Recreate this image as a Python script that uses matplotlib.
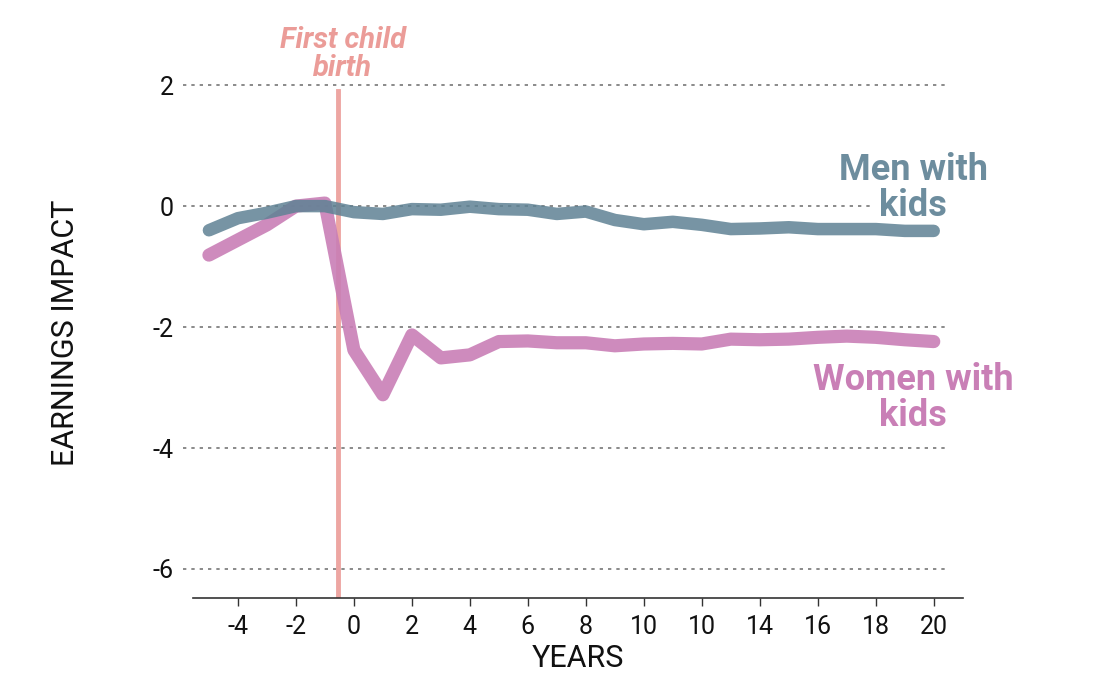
import matplotlib.pyplot as plt

years = list(range(-5, 21))
men = [-0.40, -0.20, -0.11, 0.0, 0.0, -0.10, -0.13, -0.05, -0.06, -0.01, -0.05, -0.06, -0.13,
       -0.09, -0.23, -0.30, -0.26, -0.31, -0.38, -0.37, -0.35, -0.38, -0.38, -0.38, -0.41, -0.41]
women = [-0.81, -0.56, -0.31, 0.0, 0.05, -2.38, -3.12, -2.13, -2.51, -2.46, -2.24, -2.23, -2.26,
         -2.26, -2.31, -2.28, -2.27, -2.28, -2.20, -2.21, -2.20, -2.17, -2.15, -2.17, -2.21, -2.24]

xticks = [-4, -2, 0, 2, 4, 6, 8, 10, 12, 14, 16, 18, 20]
xtick_labels = ["-4", "-2", "0", "2", "4", "6", "8", "10", "10", "14", "16", "18", "20"]
yticks = [2, 0, -2, -4, -6]
birth_x = -0.55

men_col = "#5f8294"
men_text = "#6d8d9e"
women_col = "#c97fb6"
birth_col = "#eb9c98"
tick_font = ["Roboto", "DejaVu Sans"]

fig = plt.figure(figsize=(10.99, 6.76), dpi=100)
ax = fig.add_axes([0.1756, 0.1154, 0.7004, 0.7855])
ax.set_xlim(-5.55, 21.0)
ax.set_ylim(-6.48, 2.3)

# dotted gridlines, the zero one stops before the men label
for y in yticks:
    end = 17.9 if y == 0 else 20.5
    ax.plot([-5.9, end], [y, y], color="#777777", lw=1.2, ls=(0, (2, 3)),
            clip_on=False, zorder=1)

ax.plot(years, women, color=women_col, lw=9.5, alpha=0.9, solid_capstyle="round",
        solid_joinstyle="round", zorder=3)
ax.plot(years, men, color=men_col, lw=9, alpha=0.85, solid_capstyle="round",
        solid_joinstyle="round", zorder=3)

ax.plot([birth_x, birth_x], [-6.48, 1.9], color=birth_col, lw=3.5, alpha=0.9, zorder=2)
ax.text(-0.38, 2.51, "First child\nbirth", color=birth_col, fontsize=21,
        fontweight="bold", fontstyle="italic", ha="center", va="center",
        multialignment="center", linespacing=1.0, family="Roboto")

ax.text(19.3, 0.3, "Men with\nkids", color=men_text, fontsize=26, fontweight="bold",
        ha="center", va="center", multialignment="center", linespacing=0.98,
        family="Roboto")
ax.text(19.3, -3.17, "Women with\nkids", color=women_col, fontsize=26, fontweight="bold",
        ha="center", va="center", multialignment="center", linespacing=0.98,
        family="Roboto")

for s in ["top", "right", "left"]:
    ax.spines[s].set_visible(False)
ax.spines["bottom"].set_color("#333333")
ax.spines["bottom"].set_linewidth(1.2)

ax.set_xticks(xticks)
ax.set_xticklabels(xtick_labels, family=tick_font, fontsize=18, color="#111111")
ax.set_yticks(yticks)
ax.set_yticklabels([str(y) for y in yticks], family=tick_font, fontsize=18,
                   color="#111111")
ax.tick_params(axis="x", length=6, width=1, color="#333333", pad=6)
ax.tick_params(axis="y", length=0, pad=14)

ax.set_xlabel("YEARS", family=tick_font, fontsize=22, color="#111111", labelpad=4)
ax.set_ylabel("EARNINGS IMPACT", family=tick_font, fontsize=22, color="#111111",
              labelpad=52)

fig.savefig("out.png", dpi=100)
